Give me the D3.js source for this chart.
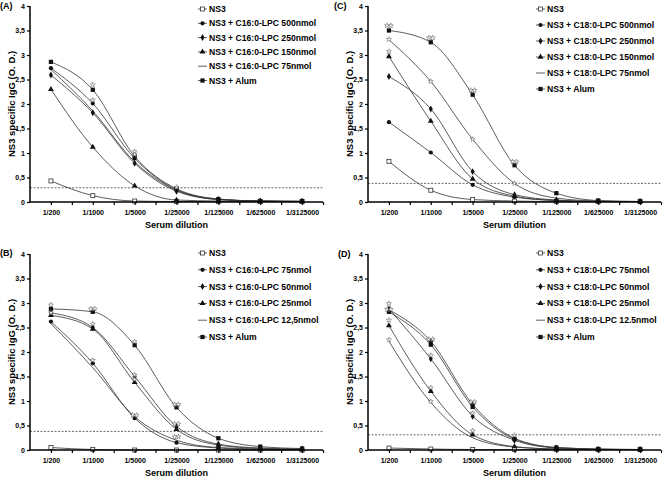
<!DOCTYPE html>
<html>
<head>
<meta charset="utf-8">
<script src="https://cdn.jsdelivr.net/npm/d3@7"></script>
<style>
  body { margin: 0; background: #fff; }
  svg { display: block; font-family: "Liberation Sans", Arial, sans-serif; font-weight: bold; }
</style>
</head>
<body>
<svg id="chart" width="664" height="477"></svg>
<script>
// Data
const dilutions = ["1/200", "1/1000", "1/5000", "1/25000", "1/125000", "1/625000", "1/3125000"];
const yTicks = [0, 0.5, 1, 1.5, 2, 2.5, 3, 3.5, 4];
const yTickLabels = ["0", "0,5", "1", "1,5", "2", "2,5", "3", "3,5", "4"];

// marker per series: open square, circle, diamond, triangle, none, filled square
const markerTypes = ["openSquare", "circle", "diamond", "triangle", "none", "square"];

const namesA = ["NS3", "NS3 + C16:0-LPC 500nmol", "NS3 + C16:0-LPC 250nmol", "NS3 + C16:0-LPC 150nmol", "NS3 + C16:0-LPC 75nmol", "NS3 + Alum"];
const namesB = ["NS3", "NS3 + C16:0-LPC 75nmol", "NS3 + C16:0-LPC 50nmol", "NS3 + C16:0-LPC 25nmol", "NS3 + C16:0-LPC 12,5nmol", "NS3 + Alum"];
const namesC = ["NS3", "NS3 + C18:0-LPC 500nmol", "NS3 + C18:0-LPC 250nmol", "NS3 + C18:0-LPC 150nmol", "NS3 + C18:0-LPC 75nmol", "NS3 + Alum"];
const namesD = ["NS3", "NS3 + C18:0-LPC 75nmol", "NS3 + C18:0-LPC 50nmol", "NS3 + C18:0-LPC 25nmol", "NS3 + C18:0-LPC 12.5nmol", "NS3 + Alum"];

const valuesA = [
  [0.43, 0.13, 0.02, 0.01, 0.01, 0.01, 0.01],
  [2.73, 2.01, 0.89, 0.25, 0.06, 0.02, 0.01],
  [2.59, 1.82, 0.79, 0.22, 0.05, 0.02, 0.01],
  [2.30, 1.12, 0.33, 0.04, 0.02, 0.01, 0.01],
  [2.70, 1.86, 0.82, 0.24, 0.05, 0.02, 0.01],
  [2.86, 2.29, 0.93, 0.27, 0.06, 0.02, 0.02]
];
const valuesB = [
  [0.05, 0.01, 0.00, 0.00, 0.00, 0.00, 0.00],
  [2.62, 1.77, 0.65, 0.15, 0.04, 0.01, 0.01],
  [2.80, 2.50, 1.50, 0.48, 0.12, 0.04, 0.02],
  [2.75, 2.47, 1.38, 0.42, 0.10, 0.03, 0.01],
  [2.58, 1.68, 0.68, 0.20, 0.05, 0.02, 0.01],
  [2.88, 2.82, 2.14, 0.87, 0.24, 0.07, 0.03]
];
const valuesC = [
  [0.83, 0.24, 0.05, 0.02, 0.01, 0.01, 0.01],
  [1.63, 1.01, 0.35, 0.10, 0.03, 0.01, 0.01],
  [2.56, 1.90, 0.62, 0.15, 0.04, 0.01, 0.01],
  [2.97, 1.65, 0.47, 0.12, 0.03, 0.01, 0.01],
  [3.31, 2.46, 1.28, 0.38, 0.08, 0.02, 0.01],
  [3.50, 3.26, 2.19, 0.75, 0.18, 0.03, 0.01]
];
const valuesD = [
  [0.04, 0.02, 0.01, 0.01, 0.01, 0.01, 0.01],
  [2.86, 2.22, 0.93, 0.24, 0.05, 0.02, 0.01],
  [2.88, 1.86, 0.69, 0.20, 0.04, 0.01, 0.01],
  [2.54, 1.20, 0.31, 0.07, 0.02, 0.01, 0.01],
  [2.22, 0.97, 0.25, 0.06, 0.02, 0.01, 0.01],
  [2.82, 2.15, 0.88, 0.22, 0.05, 0.02, 0.01]
];

// significance stars: [dilution index, O.D., count]
const starsA = [[1, 2.39, 1], [1, 2.08, 1], [2, 1.03, 1], [2, 0.97, 1], [3, 0.30, 1]];
const starsB = [[0, 2.96, 1], [0, 2.80, 1], [1, 2.88, 2], [1, 2.57, 1], [1, 1.83, 1], [2, 2.21, 1], [2, 1.53, 1], [2, 1.44, 1], [2, 0.71, 2], [3, 0.93, 2], [3, 0.53, 2], [3, 0.27, 2]];
const starsC = [[0, 3.60, 2], [0, 3.32, 1], [0, 3.07, 1], [1, 3.35, 2], [1, 2.46, 1], [2, 2.28, 2], [2, 1.28, 1], [3, 0.82, 2], [3, 0.38, 1]];
const starsD = [[0, 2.99, 1], [0, 2.87, 2], [0, 2.65, 1], [0, 2.25, 1], [1, 2.26, 2], [1, 1.93, 1], [1, 1.27, 1], [1, 0.99, 1], [2, 0.98, 2], [2, 0.75, 1], [2, 0.39, 1], [3, 0.30, 1]];

const cutoffs = { A: 0.29, B: 0.38, C: 0.38, D: 0.31 };

const svg = d3.select('#chart');

const panels = [
  { label: '(A)', lx: 0, ly: 9, ox: 30, oy: 6, names: namesA, values: valuesA, stars: starsA, cut: cutoffs.A, legX: 198, legY: 9, legStep: 14.3 },
  { label: '(B)', lx: 0, ly: 256, ox: 30, oy: 254, names: namesB, values: valuesB, stars: starsB, cut: cutoffs.B, legX: 198, legY: 253, legStep: 16.8 },
  { label: '(C)', lx: 334, ly: 9, ox: 368, oy: 6, names: namesC, values: valuesC, stars: starsC, cut: cutoffs.C, legX: 536, legY: 9, legStep: 16 },
  { label: '(D)', lx: 338, ly: 257, ox: 368, oy: 254, names: namesD, values: valuesD, stars: starsD, cut: cutoffs.D, legX: 536, legY: 253, legStep: 16.8 }
];

panels.forEach(drawPanel);

function drawMarker(g, type, x, y) {
  if (type === 'none') return;
  if (type === 'openSquare') {
    g.append('rect').attr('x', x - 2).attr('y', y - 2).attr('width', 4).attr('height', 4)
      .attr('fill', '#fff').attr('stroke', '#333').attr('stroke-width', 0.8);
    return;
  }
  const sym = {
    circle: d3.symbolCircle,
    diamond: d3.symbolDiamond,
    triangle: d3.symbolTriangle,
    square: d3.symbolSquare
  }[type];
  const size = { circle: 14, diamond: 14, triangle: 15, square: 18 }[type];
  g.append('path')
    .attr('d', d3.symbol(sym, size)())
    .attr('transform', `translate(${x},${y})`)
    .attr('fill', '#111');
}

function drawPanel(p) {
  const w = 293, h = 196;
  const g = svg.append('g').attr('transform', `translate(${p.ox},${p.oy})`);

  const x = d3.scaleLinear().domain([-0.5, dilutions.length - 0.5]).range([0, w]);
  const y = d3.scaleLinear().domain([0, 4]).range([h, 0]);

  // cut-off line
  g.append('line')
    .attr('x1', 0).attr('x2', w)
    .attr('y1', y(p.cut)).attr('y2', y(p.cut))
    .attr('stroke', '#444').attr('stroke-width', 0.8)
    .attr('stroke-dasharray', '2,1.5');

  // curves
  const line = d3.line()
    .x((d, i) => x(i))
    .y(d => y(d))
    .curve(d3.curveMonotoneX);

  p.values.forEach(vals => {
    g.append('path')
      .datum(vals)
      .attr('d', line)
      .attr('fill', 'none')
      .attr('stroke', '#333')
      .attr('stroke-width', 0.8);
  });

  p.values.forEach((vals, si) => {
    vals.forEach((v, i) => drawMarker(g, markerTypes[si], x(i), y(v)));
  });

  // stars
  const star = d3.symbol(d3.symbolStar, 8)();
  p.stars.forEach(([i, v, n]) => {
    for (let k = 0; k < n; k++) {
      const dx = n === 1 ? 0 : (k - 0.5) * 3.8;
      g.append('path')
        .attr('d', star)
        .attr('transform', `translate(${x(i) + dx},${y(v)})`)
        .attr('fill', '#fff')
        .attr('stroke', '#555')
        .attr('stroke-width', 0.5);
    }
  });

  // axes
  const yAxis = d3.axisLeft(y)
    .tickValues(yTicks)
    .tickFormat((d, i) => yTickLabels[i])
    .tickSize(3)
    .tickPadding(2);
  const ga = g.append('g').call(yAxis);
  ga.select('.domain').attr('stroke-width', 1.5).attr('d', `M0,${h}V0`);
  ga.selectAll('.tick line').attr('stroke-width', 1.2);
  ga.selectAll('text').attr('font-size', '7px').attr('font-weight', 'bold')
    .attr('font-family', '"Liberation Sans", Arial, sans-serif');

  const xTicks = d3.range(-0.5, dilutions.length, 0.5).slice(1);
  const xAxis = d3.axisBottom(x)
    .tickValues(xTicks)
    .tickFormat(d => Number.isInteger(d) ? dilutions[d] : '')
    .tickSize(3)
    .tickPadding(5);
  const gx = g.append('g').attr('transform', `translate(0,${h})`).call(xAxis);
  gx.select('.domain').attr('stroke-width', 1.5).attr('d', `M0,0H${w}`);
  gx.selectAll('.tick line').attr('stroke-width', 1.2);
  gx.selectAll('text').attr('font-size', '7px').attr('font-weight', 'bold')
    .attr('font-family', '"Liberation Sans", Arial, sans-serif');

  // titles
  g.append('text')
    .attr('x', w / 2).attr('y', h + 25.5)
    .attr('text-anchor', 'middle')
    .attr('font-size', '9px')
    .text('Serum dilution');

  g.append('text')
    .attr('transform', `translate(${-15},${h / 2}) rotate(-90)`)
    .attr('text-anchor', 'middle')
    .attr('font-size', '9.5px')
    .text('NS3 specific IgG (O. D.)');

  svg.append('text')
    .attr('x', p.lx).attr('y', p.ly)
    .attr('font-size', '9px')
    .text(p.label);

  // legend
  const leg = svg.append('g');
  p.names.forEach((name, i) => {
    const ly = p.legY + i * p.legStep;
    leg.append('line')
      .attr('x1', p.legX).attr('x2', p.legX + 9)
      .attr('y1', ly).attr('y2', ly)
      .attr('stroke', '#333').attr('stroke-width', 0.8);
    drawMarker(leg, markerTypes[i], p.legX + 4.5, ly);
    leg.append('text')
      .attr('x', p.legX + 11).attr('y', ly + 3)
      .attr('font-size', '8.6px')
      .text(name);
  });
}
</script>
</body>
</html>
